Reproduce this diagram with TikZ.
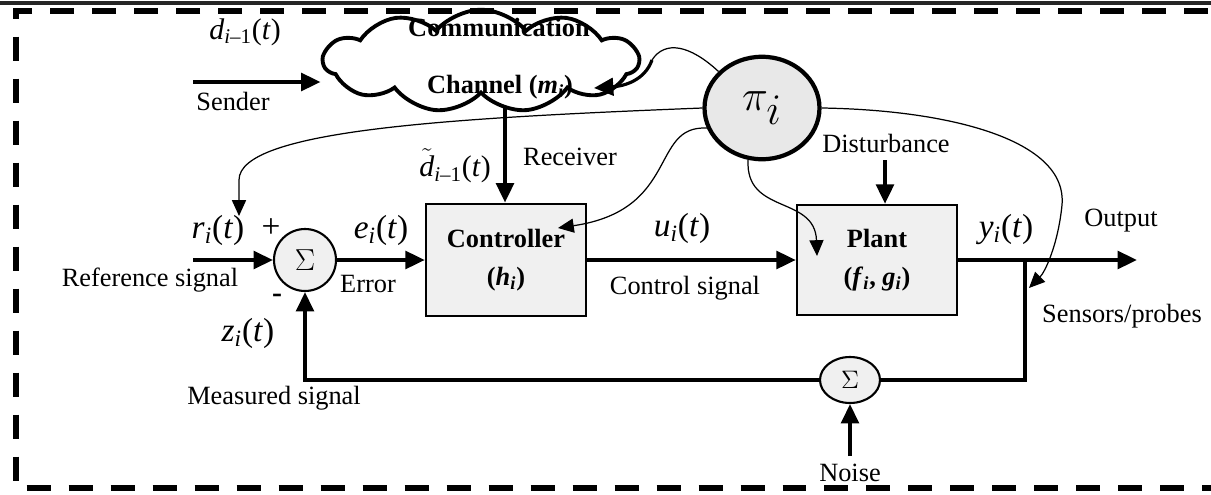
\documentclass[tikz,border=0pt]{standalone}
\usepackage{fontspec}
\setmainfont{Liberation Serif}
\usetikzlibrary{arrows.meta, shapes.symbols, shapes.geometric, positioning}

\newcommand{\sgnl}[2]{\textit{#1}\textsubscript{\textit{#2}}(\textit{t})}

\begin{document}
\begin{tikzpicture}[x=0.02cm, y=-0.02cm, >={Triangle[length=11pt,width=10pt]},
  font=\fontsize{15}{18}\selectfont,
  blk/.style={draw, line width=1.4pt, fill=gray!12, minimum width=3.2cm, minimum height=2.25cm, align=center, font=\fontsize{15}{22}\selectfont\bfseries},
  sumn/.style={ellipse, draw, line width=1.2pt, fill=gray!12, inner sep=0pt},
  sig/.style={->, line width=2.1pt},
  info/.style={-{Triangle[length=9pt,width=8pt]}, line width=0.7pt},
  lbl/.style={font=\fontsize{19}{22}\selectfont}]
\useasboundingbox (0,0) rectangle (1211,494);
\draw[line width=2.3pt, black!85] (0,3) -- (1211,3);
\draw[line width=3.3pt, dash pattern=on 0.48cm off 0.36cm] (1250,11) -- (16,11) -- (16,488) -- (1250,488);

\node[cloud, draw, line width=2.2pt, cloud puffs=11, cloud puff arc=100, aspect=3.2, minimum width=6.3cm, minimum height=2.05cm] (chan) at (481,61) {};
\node[font=\fontsize{15}{18}\selectfont\bfseries] (chantop) at (499,28) {Communication};
\node[font=\fontsize{15}{18}\selectfont\bfseries] (chanbot) at (500,87) {Channel (\textit{m}\textsubscript{\textit{i}})};
\node[ellipse, draw, line width=2.4pt, fill=gray!18, minimum width=2.3cm, minimum height=2.05cm, font=\fontsize{34}{40}\selectfont] (pi) at (762,108) {$\pi_i$};

\node[blk] (ctrl) at (506,260) {Controller\\(\textit{h}\textsubscript{\textit{i}})};
\node[blk, minimum height=2.2cm] (plant) at (877,260) {Plant\\(\textit{f}\textsubscript{\textit{i}}, \textit{g}\textsubscript{\textit{i}})};
\node[sumn, minimum width=1.24cm, minimum height=1.24cm, font=\fontsize{18}{20}\selectfont] (sum1) at (305,260) {$\Sigma$};
\node[sumn, minimum width=1.2cm, minimum height=0.92cm, font=\fontsize{15}{18}\selectfont] (sum2) at (850,380) {$\Sigma$};

\coordinate (sendin) at (193,82);
\coordinate (chanout) at (505,107);
\coordinate (refin) at (193,260);
\coordinate (outend) at (1137,260);
\coordinate (junc) at (1025,260);
\coordinate (fbcorner) at (1025,380);
\coordinate (fbleft) at (305,380);
\coordinate (noisein) at (850,456);
\coordinate (distin) at (885,160);
\coordinate (rtip) at (239,216);
\coordinate (ctrlin) at (558,228);
\coordinate (plantin) at (817,256);
\coordinate (sensin) at (1029,288);
\coordinate (chanin) at (594,88);

\node[font=\fontsize{17}{20}\selectfont] (dsend) at (245,32) {\textit{d}\textsubscript{\textit{i}--1}(\textit{t})};
\node (sender) at (233,101) {Sender};
\node (recv) at (570,157) {Receiver};
\node[font=\fontsize{17}{20}\selectfont] (drecv) at (455,166) {$\tilde{\mbox{\textit{d}}}$\textsubscript{\textit{i}--1}(\textit{t})};
\node (dist) at (886,143) {Disturbance};
\node[lbl] (ui) at (682,228) {\sgnl{u}{i}};
\node (ctrlsig) at (685,288) {Control signal};
\node[lbl] (yi) at (1006,230) {\sgnl{y}{i}};
\node (outlbl) at (1121,221) {Output};
\node (sensor) at (1122,316) {Sensors/probes};
\node[lbl] (ri) at (218,230) {\sgnl{r}{i}};
\node[lbl] (plus) at (271,228) {+};
\node[lbl] (ei) at (381,230) {\sgnl{e}{i}};
\node (reflbl) at (150,280) {Reference signal};
\node (errlbl) at (368,284) {Error};
\node[font=\fontsize{17}{18}\selectfont\bfseries] (minus) at (277,298) {-};
\node[lbl] (zi) at (248,333) {\sgnl{z}{i}};
\node (meas) at (274,398) {Measured signal};
\node (noise) at (850,473) {Noise};

\path[sig] (sendin) edge (sendin -| chan.west);
\path[sig] (refin) edge (sum1);
\path[sig] (sum1) edge (ctrl);
\path[sig] (ctrl) edge (plant);
\path[sig] (plant.east) edge (outend);
\path[sig] (chanout) edge (chanout |- ctrl.north);
\path[sig] (distin) edge (distin |- plant.north);
\path[sig] (noisein) edge (sum2);
\draw[line width=2.1pt] (junc) -- (fbcorner) -- (sum2);
\draw[sig] (sum2) -- (fbleft) -- (sum1);

\draw[line width=0.7pt] (pi.140) .. controls (690,45) and (665,40) .. (652,60);
\draw[->, line width=1.8pt] (652,60) .. controls (645,80) and (625,86) .. (chanin);
\draw[info] (pi.west) .. controls (450,118) and (239,130) .. (239,180) -- (rtip);
\draw[info] (pi.200) .. controls (650,125) and (680,210) .. (ctrlin);
\draw[info] (pi.255) .. controls (745,215) and (815,195) .. (plantin);
\draw[info] (pi.east) .. controls (950,110) and (1068,140) .. (1062,205) .. controls (1058,245) and (1045,272) .. (sensin);
\end{tikzpicture}
\end{document}
